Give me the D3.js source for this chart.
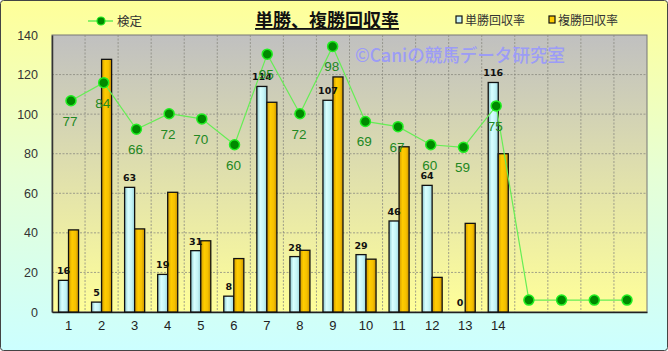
<!DOCTYPE html>
<html><head><meta charset="utf-8">
<script src="https://cdn.jsdelivr.net/npm/d3@7"></script>
<style>body{margin:0;background:#fff}svg{display:block}</style>
</head><body>
<script>
const categories = ["1","2","3","4","5","6","7","8","9","10","11","12","13","14","15","16","17","18"];
const tickLabels = ["1","2","3","4","5","6","7","8","9","10","11","12","13","14","","","",""];
const tanValues  = [16,5,63,19,31,8,114,28,107,29,46,64,0,116];
const fukuValues = [41.5,127.7,42,60.5,36,27,106,31.2,118.8,26.7,83.5,17.5,44.8,80];
const kenteiValues = [77,84,66,72,70,60,95,72,98,69,67,60,59,75,0,0,0,0];
const yTicks = [0,20,40,60,80,100,120,140];
const title = "単勝、複勝回収率";
const watermark = "©Caniの競馬データ研究室";
const legendLine = "検定";
const legendTan = "単勝回収率";
const legendFuku = "複勝回収率";

const W = 668, H = 351;
const plot = {l:52, t:35, r:647, b:312};
const svg = d3.select("body").append("svg").attr("width",W).attr("height",H);
const defs = svg.append("defs");
function lg(id, stops, horiz){
  const g = defs.append("linearGradient").attr("id",id)
    .attr("x1",0).attr("y1",0).attr("x2",horiz?1:0).attr("y2",horiz?0:1);
  stops.forEach(s=>g.append("stop").attr("offset",s[0]).attr("stop-color",s[1]));
}
lg("bg",[[0,"#ffff99"],[0.5,"#e6ffd6"],[1,"#ccffff"]]);
lg("pa",[[0,"#c0c0c0"],[1,"#ffff99"]]);
lg("blue",[[0,"#8cc8d0"],[0.35,"#d8ffff"],[0.7,"#c4f4f6"],[1,"#9cd4dc"]],true);
lg("gold",[[0,"#d09a00"],[0.35,"#ffcc00"],[0.7,"#f5c000"],[1,"#c89000"]],true);

svg.append("rect").attr("x",0.5).attr("y",0.5).attr("width",W-1).attr("height",H-1)
  .attr("rx",3).attr("fill","url(#bg)").attr("stroke","#444").attr("stroke-width",1);

const x = d3.scaleBand().domain(categories).range([plot.l, plot.r]).padding(0);
const xIn = d3.scaleBand().domain(["tan","fuku"]).range([6.5, x.bandwidth()-6.5]).padding(0);
const y = d3.scaleLinear().domain([0,140]).range([plot.b, plot.t]);
const y2 = d3.scaleLinear().domain([-4.6,102.4]).range([plot.b, plot.t]);
const xLine = d3.scalePoint().domain(categories).range([plot.l+19, plot.r-20]);

svg.append("rect").attr("x",plot.l).attr("y",plot.t).attr("width",plot.r-plot.l).attr("height",plot.b-plot.t)
  .attr("fill","url(#pa)").attr("stroke","#777").attr("stroke-width",1);

// grid
const grid = svg.append("g").attr("stroke","#8a8a80").attr("stroke-width",0.8).attr("stroke-dasharray","2,1.5");
yTicks.filter(v=>v>0 && v<140).forEach(v=>{
  grid.append("line").attr("x1",plot.l).attr("x2",plot.r).attr("y1",y(v)).attr("y2",y(v));
});
categories.slice(1).forEach(c=>{
  grid.append("line").attr("x1",x(c)).attr("x2",x(c)).attr("y1",plot.t).attr("y2",plot.b);
});

// watermark
svg.append("text").attr("x",355).attr("y",62).text(watermark)
  .attr("font-family","'Noto Sans CJK JP', sans-serif").attr("font-size",18).attr("font-weight",500)
  .attr("textLength",210).attr("lengthAdjust","spacingAndGlyphs")
  .attr("fill","#9c9cf6");

// axes
const yAxis = d3.axisLeft(y).tickValues(yTicks).tickSize(0).tickPadding(14);
const ya = svg.append("g").attr("transform",`translate(${plot.l},0)`).call(yAxis);
ya.select(".domain").attr("stroke","#333").attr("stroke-width",1.5);
ya.selectAll("text").attr("font-family","'Liberation Sans', Arial, sans-serif").attr("font-size",12.5).attr("fill","#333");

const xAxis = d3.axisBottom(x).tickSize(0).tickPadding(9).tickFormat((d,i)=>tickLabels[i]);
const xa = svg.append("g").attr("transform",`translate(0,${plot.b})`).call(xAxis);
xa.select(".domain").attr("stroke","#222").attr("stroke-width",1.5);
xa.selectAll("text").attr("font-family","'Liberation Sans', Arial, sans-serif").attr("font-size",13).attr("fill","#222");

// bars
const bars = svg.append("g");
bars.selectAll(".tan").data(tanValues).join("rect")
  .attr("x",(d,i)=>x(categories[i])+xIn("tan")).attr("width",xIn.bandwidth())
  .attr("y",d=>y(d)).attr("height",d=>y(0)-y(d))
  .attr("fill","url(#blue)").attr("stroke","#111").attr("stroke-width",1.3);
bars.selectAll(".fuku").data(fukuValues).join("rect")
  .attr("x",(d,i)=>x(categories[i])+xIn("fuku")).attr("width",xIn.bandwidth())
  .attr("y",d=>y(d)).attr("height",d=>y(0)-y(d))
  .attr("fill","url(#gold)").attr("stroke","#111").attr("stroke-width",1.3);

// line
const line = d3.line().x((d,i)=>xLine(categories[i])).y(d=>y2(d));
svg.append("path").datum(kenteiValues).attr("d",line).attr("fill","none")
  .attr("stroke","#66ee55").attr("stroke-width",1.2);
svg.append("g").selectAll("circle").data(kenteiValues).join("circle")
  .attr("cx",(d,i)=>xLine(categories[i])).attr("cy",d=>y2(d)).attr("r",5)
  .attr("fill","#008a00").attr("stroke","#22ee22").attr("stroke-width",1.5);

// bar labels
svg.append("g").selectAll("text").data(tanValues).join("text")
  .attr("x",(d,i)=>x(categories[i])+xIn("tan")+xIn.bandwidth()/2).attr("y",d=>y(d)-6)
  .attr("text-anchor","middle").text(d=>d)
  .attr("font-family","'DejaVu Sans', sans-serif").attr("font-size",9.5).attr("font-weight","bold").attr("fill","#111");

// line labels
svg.append("g").selectAll("text").data(kenteiValues.slice(0,14)).join("text")
  .attr("x",(d,i)=>xLine(categories[i])-1).attr("y",d=>y2(d)+25)
  .attr("text-anchor","middle").text(d=>d)
  .attr("font-family","'Liberation Sans', Arial, sans-serif").attr("font-size",13.5).attr("fill","#228822");

// title
svg.append("text").attr("x",327).attr("y",27).attr("text-anchor","middle").text(title)
  .attr("font-family","'Noto Sans CJK JP', sans-serif").attr("font-size",18).attr("font-weight","bold")
  .attr("fill","#111").attr("text-decoration","underline");

// legend
const lgd = svg.append("g");
lgd.append("line").attr("x1",88).attr("x2",113).attr("y1",21).attr("y2",21).attr("stroke","#66ee55").attr("stroke-width",1.5);
lgd.append("circle").attr("cx",101).attr("cy",21).attr("r",4).attr("fill","#008a00").attr("stroke","#22ee22").attr("stroke-width",1.2);
lgd.append("text").attr("x",117).attr("y",26).text(legendLine)
  .attr("font-family","'Noto Sans CJK JP', sans-serif").attr("font-size",12.5).attr("fill","#333");
lgd.append("rect").attr("x",456).attr("y",16).attr("width",6).attr("height",7).attr("fill","#c8f4f8").attr("stroke","#111").attr("stroke-width",1.2);
lgd.append("text").attr("x",465).attr("y",25).text(legendTan)
  .attr("font-family","'Noto Sans CJK JP', sans-serif").attr("font-size",12).attr("fill","#333");
lgd.append("rect").attr("x",549).attr("y",16).attr("width",6).attr("height",7).attr("fill","#ffcc00").attr("stroke","#111").attr("stroke-width",1.2);
lgd.append("text").attr("x",558).attr("y",25).text(legendFuku)
  .attr("font-family","'Noto Sans CJK JP', sans-serif").attr("font-size",12).attr("fill","#333");
</script>
</body></html>
